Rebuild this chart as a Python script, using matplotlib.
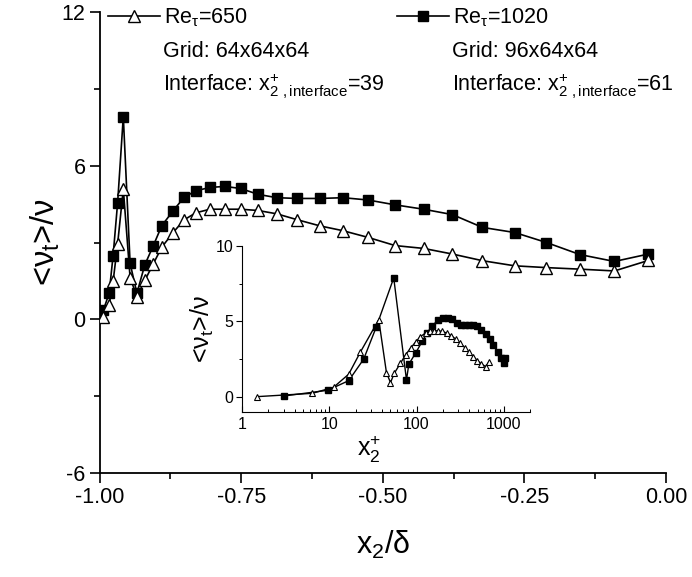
import matplotlib
matplotlib.use("Agg")
import matplotlib.pyplot as plt
from matplotlib.ticker import MultipleLocator, FormatStrFormatter, LogLocator, NullFormatter
from matplotlib.lines import Line2D

plt.rcParams['font.family'] = ['Liberation Sans', 'DejaVu Sans']
plt.rcParams['mathtext.fontset'] = 'custom'
plt.rcParams['mathtext.rm'] = 'Liberation Sans'
plt.rcParams['mathtext.it'] = 'Liberation Sans'
plt.rcParams['mathtext.bf'] = 'Liberation Sans:bold'
plt.rcParams['axes.unicode_minus'] = False

# main panel: x2/delta, shared wall-normal positions
x_delta = [-0.993, -0.983, -0.976, -0.968, -0.958, -0.946, -0.934, -0.920, -0.905, -0.890,
           -0.870, -0.851, -0.830, -0.805, -0.779, -0.751, -0.720, -0.687, -0.651, -0.611,
           -0.570, -0.526, -0.478, -0.428, -0.377, -0.324, -0.267, -0.211, -0.152, -0.091,
           -0.031]
nu_650 = [0.11, 0.57, 1.48, 2.95, 5.09, 1.63, 0.89, 1.52, 2.17, 2.82,
          3.39, 3.88, 4.16, 4.30, 4.30, 4.30, 4.25, 4.12, 3.89, 3.65,
          3.46, 3.20, 2.88, 2.77, 2.55, 2.29, 2.09, 2.02, 1.96, 1.89,
          2.30]
nu_1020 = [0.37, 1.02, 2.49, 4.56, 7.92, 2.19, 1.02, 2.13, 2.88, 3.66,
           4.24, 4.76, 5.02, 5.15, 5.19, 5.11, 4.88, 4.75, 4.72, 4.72,
           4.75, 4.66, 4.47, 4.30, 4.09, 3.59, 3.39, 3.00, 2.53, 2.26,
           2.55]

# inset: wall units
xp_650 = [1.5, 6.4, 11.2, 16.7, 22.7, 36.9, 45.2, 50.3, 55.6, 65.5, 74.8, 85.4, 97.5, 111, 127,
          142, 158, 176, 197, 221, 251, 281, 315, 357, 398, 447, 499, 554, 621, 678]
nu_650_in = [0.0, 0.22, 0.62, 1.49, 2.95, 5.11, 1.60, 0.93, 1.55, 2.22, 2.77, 3.22, 3.62, 3.99, 4.22,
             4.33, 4.37, 4.37, 4.33, 4.22, 4.04, 3.82, 3.55, 3.26, 2.95, 2.66, 2.39, 2.17, 1.99, 2.33]
xp_1020 = [3.0, 9.6, 16.7, 24.8, 34.4, 54.8, 76.7, 81.6, 97.5, 116, 133, 151, 176, 203, 229,
           257, 288, 320, 357, 398, 447, 499, 554, 621, 690, 762, 847, 925, 993, 1026]
nu_1020_in = [0.04, 0.42, 1.06, 2.49, 4.59, 7.88, 1.11, 2.15, 2.89, 3.66, 4.25, 4.71, 5.06, 5.19, 5.24,
              5.15, 4.89, 4.77, 4.73, 4.73, 4.75, 4.66, 4.44, 4.17, 3.82, 3.44, 2.99, 2.55, 2.26, 2.59]

lab_650 = r"Re$_\tau$=650"
lab_1020 = r"Re$_\tau$=1020"
grid_650 = "Grid: 64x64x64"
grid_1020 = "Grid: 96x64x64"
intf_650 = r"Interface: x$^{+}_{2\ ,\mathrm{interface}}$=39"
intf_1020 = r"Interface: x$^{+}_{2\ ,\mathrm{interface}}$=61"

fig = plt.figure(figsize=(6.92, 5.77), dpi=100)
ax = fig.add_axes([0.1438, 0.1802, 0.8186, 0.799])

tri = dict(marker='^', mfc='white', mec='black', ms=9, mew=1.0, color='black', lw=1.2)
sq = dict(marker='s', mfc='black', mec='black', ms=7.5, color='black', lw=1.2)

ax.plot(x_delta, nu_650, zorder=3, **tri)
ax.plot(x_delta, nu_1020, zorder=2, **sq)

ax.set_xlim(-1.0, 0.0)
ax.set_ylim(-6, 12)
ax.xaxis.set_major_locator(MultipleLocator(0.25))
ax.xaxis.set_minor_locator(MultipleLocator(0.125))
ax.xaxis.set_major_formatter(FormatStrFormatter('%.2f'))
ax.yaxis.set_major_locator(MultipleLocator(6))
ax.yaxis.set_minor_locator(MultipleLocator(3))
for s in ['top', 'right']:
    ax.spines[s].set_visible(False)
for s in ['left', 'bottom']:
    ax.spines[s].set_linewidth(1.3)
ax.tick_params(which='major', direction='out', length=7, width=1.2, labelsize=15.5, pad=3)
ax.tick_params(which='minor', direction='out', length=4, width=1.2)
ax.set_xlabel(r"x$_2$/$\delta$", fontsize=22, labelpad=15)
ax.set_ylabel(r"<$\nu_t$>/$\nu$", fontsize=23.5, labelpad=0)

# legend entries
h650 = Line2D([], [], **tri)
h1020 = Line2D([], [], **sq)
leg1 = ax.legend([h650], [lab_650], loc='upper left', bbox_to_anchor=(0.015, 1.012),
                 frameon=False, fontsize=15.5, handlelength=2.4, handletextpad=0.2,
                 borderpad=0, borderaxespad=0)
ax.add_artist(leg1)
ax.legend([h1020], [lab_1020], loc='upper left', bbox_to_anchor=(0.525, 1.012),
          frameon=False, fontsize=15.5, handlelength=2.4, handletextpad=0.2,
          borderpad=0, borderaxespad=0)

ax.text(0.112, 0.915, grid_650, transform=ax.transAxes, fontsize=15.5, va='center')
ax.text(0.112, 0.838, intf_650, transform=ax.transAxes, fontsize=15.5, va='center')
ax.text(0.622, 0.915, grid_1020, transform=ax.transAxes, fontsize=15.5, va='center')
ax.text(0.622, 0.838, intf_1020, transform=ax.transAxes, fontsize=15.5, va='center')

# inset
axi = fig.add_axes([0.3497, 0.2865, 0.4163, 0.2872])
axi.plot(xp_650, nu_650_in, marker='^', mfc='white', mec='black', ms=5, mew=0.8,
         color='black', lw=1.0, zorder=3)
axi.plot(xp_1020, nu_1020_in, marker='s', mfc='black', mec='black', ms=4,
         color='black', lw=1.0, zorder=2)
axi.set_xscale('log')
axi.set_xlim(1, 2000)
axi.set_ylim(-1, 10)
axi.xaxis.set_major_locator(LogLocator(base=10, numticks=10))
axi.xaxis.set_minor_locator(LogLocator(base=10, subs=range(2, 10), numticks=10))
axi.xaxis.set_minor_formatter(NullFormatter())
axi.xaxis.set_major_formatter(FormatStrFormatter('%g'))
axi.yaxis.set_major_locator(MultipleLocator(5))
axi.yaxis.set_minor_locator(MultipleLocator(2.5))
for s in ['top', 'right']:
    axi.spines[s].set_visible(False)
axi.patch.set_alpha(0)
axi.tick_params(axis='x', which='major', direction='in', length=4, width=0.8, labelsize=11.5, pad=4)
axi.tick_params(axis='x', which='minor', direction='in', length=2.5, width=0.7)
axi.tick_params(axis='y', which='major', direction='out', length=4, width=0.8, labelsize=11.5, pad=2)
axi.tick_params(axis='y', which='minor', direction='out', length=2.5, width=0.7)
axi.set_xlabel(r"x$^{+}_{2}$", fontsize=18, labelpad=-2)
axi.xaxis.set_label_coords(0.44, -0.13)
axi.set_ylabel(r"<$\nu_t$>/$\nu$", fontsize=18, labelpad=0)

fig.savefig("out.png", dpi=100)
